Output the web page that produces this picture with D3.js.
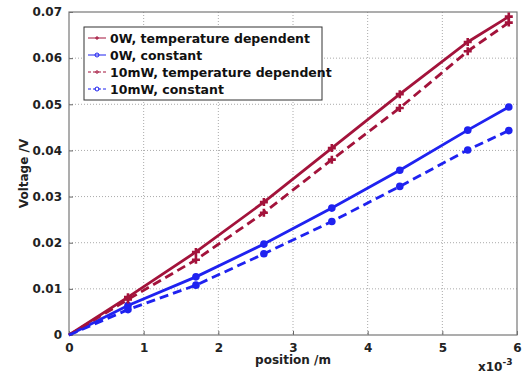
<!DOCTYPE html>
<html>
<head>
<meta charset="utf-8">
<script src="https://cdn.jsdelivr.net/npm/d3@7"></script>
<style>
  body { margin: 0; background: #fff; }
  text { font-family: "DejaVu Sans", Verdana, sans-serif; font-weight: bold; }
</style>
</head>
<body>
<div id="chart"></div>
<script>
// positions in units of 1e-3 m
const positions = [0, 0.79, 1.70, 2.61, 3.52, 4.43, 5.34, 5.89];
const tempDep0W = [0, 0.0082, 0.0180, 0.0288, 0.0405, 0.0522, 0.0635, 0.0690];
const constant0W = [0, 0.0064, 0.0126, 0.0197, 0.0275, 0.0357, 0.0444, 0.0494];
const tempDep10mW = [0, 0.0077, 0.0163, 0.0265, 0.0380, 0.0492, 0.0615, 0.0677];
const constant10mW = [0, 0.0055, 0.0108, 0.0176, 0.0246, 0.0322, 0.0401, 0.0443];
const seriesNames = ["0W, temperature dependent", "0W, constant", "10mW, temperature dependent", "10mW, constant"];
const xTicks = [0, 1, 2, 3, 4, 5, 6];
const yTicks = [0, 0.01, 0.02, 0.03, 0.04, 0.05, 0.06, 0.07];

const series = [
  { name: seriesNames[0], values: tempDep0W, color: "#a3133b", dash: null, marker: "plus" },
  { name: seriesNames[1], values: constant0W, color: "#1f22f0", dash: null, marker: "circle" },
  { name: seriesNames[2], values: tempDep10mW, color: "#a3133b", dash: "9,5", marker: "plus" },
  { name: seriesNames[3], values: constant10mW, color: "#1f22f0", dash: "9,5", marker: "circle" }
];

const width = 523, height = 378;
const margin = { top: 12, right: 6, bottom: 43, left: 69 };
const w = width - margin.left - margin.right;
const h = height - margin.top - margin.bottom;

const svg = d3.select("#chart").append("svg")
  .attr("width", width)
  .attr("height", height);

const g = svg.append("g").attr("transform", `translate(${margin.left},${margin.top})`);

const x = d3.scaleLinear().domain([0, 6]).range([0, w]);
const y = d3.scaleLinear().domain([0, 0.07]).range([h, 0]);

// grid
g.append("g").selectAll("line").data(xTicks.slice(1, -1)).enter().append("line")
  .attr("x1", d => x(d)).attr("x2", d => x(d)).attr("y1", 0).attr("y2", h)
  .attr("stroke", "#aaa").attr("stroke-dasharray", "1,2");
g.append("g").selectAll("line").data(yTicks.slice(1, -1)).enter().append("line")
  .attr("y1", d => y(d)).attr("y2", d => y(d)).attr("x1", 0).attr("x2", w)
  .attr("stroke", "#aaa").attr("stroke-dasharray", "1,2");

// axes
const xAxis = g.append("g").attr("transform", `translate(0,${h})`)
  .call(d3.axisBottom(x).tickValues(xTicks).tickFormat(d3.format("d")).tickSizeInner(-4).tickSizeOuter(0).tickPadding(8));
const yAxis = g.append("g")
  .call(d3.axisLeft(y).tickValues(yTicks).tickFormat(d => d === 0 ? "0" : d3.format(".2f")(d)).tickSizeInner(-4).tickSizeOuter(0).tickPadding(7));
[xAxis, yAxis].forEach(a => {
  a.select(".domain").remove();
  a.selectAll("line").attr("stroke", "#666");
  a.selectAll("text").attr("font-size", 12).attr("fill", "#222");
});

// frame
g.append("rect").attr("width", w).attr("height", h)
  .attr("fill", "none").attr("stroke", "#777").attr("stroke-width", 1.2);

// lines
const line = d3.line().x(d => x(d[0])).y(d => y(d[1]));
series.forEach(s => {
  const pts = positions.map((p, i) => [p, s.values[i]]);
  g.append("path").datum(pts)
    .attr("fill", "none").attr("stroke", s.color).attr("stroke-width", 2.8)
    .attr("stroke-dasharray", s.dash).attr("d", line);
  const m = g.append("g").selectAll("g").data(pts.slice(1)).enter().append("g")
    .attr("transform", d => `translate(${x(d[0])},${y(d[1])})`);
  if (s.marker === "circle") {
    m.append("circle").attr("r", 3.8).attr("fill", s.color);
  } else {
    m.append("path").attr("d", "M-4,0H4M0,-4V4").attr("stroke", s.color).attr("stroke-width", 2.6);
  }
});

// legend
const lg = g.append("g").attr("transform", "translate(15,15)");
lg.append("rect").attr("width", 238).attr("height", 73)
  .attr("fill", "#fff").attr("stroke", "#333").attr("stroke-width", 1);
series.forEach((s, i) => {
  const row = lg.append("g").attr("transform", `translate(0,${11 + i * 17})`);
  row.append("line").attr("x1", 4).attr("x2", 22).attr("y1", 0).attr("y2", 0)
    .attr("stroke", s.color).attr("stroke-width", 1)
    .attr("stroke-dasharray", s.dash ? "3,2" : null);
  if (s.marker === "circle") {
    row.append("circle").attr("cx", 13).attr("r", 2).attr("fill", "none").attr("stroke", s.color);
  } else {
    row.append("path").attr("d", "M11,0H15M13,-2V2").attr("stroke", s.color);
  }
  row.append("text").attr("x", 26).attr("y", 4.5).attr("font-size", 12.5).attr("fill", "#111").text(s.name);
});

// labels
svg.append("text").attr("x", margin.left + x(3)).attr("y", 364).attr("text-anchor", "middle")
  .attr("font-size", 12).attr("fill", "#222").text("position /m");
svg.append("text").attr("transform", `translate(28,${margin.top + h / 2}) rotate(-90)`)
  .attr("text-anchor", "middle").attr("font-size", 12).attr("fill", "#222").text("Voltage /V");
const ex = svg.append("text").attr("x", 478).attr("y", 371).attr("font-size", 12).attr("fill", "#222");
ex.append("tspan").text("x10");
ex.append("tspan").attr("dy", -6).attr("font-size", 9).text("-3");
</script>
</body>
</html>
